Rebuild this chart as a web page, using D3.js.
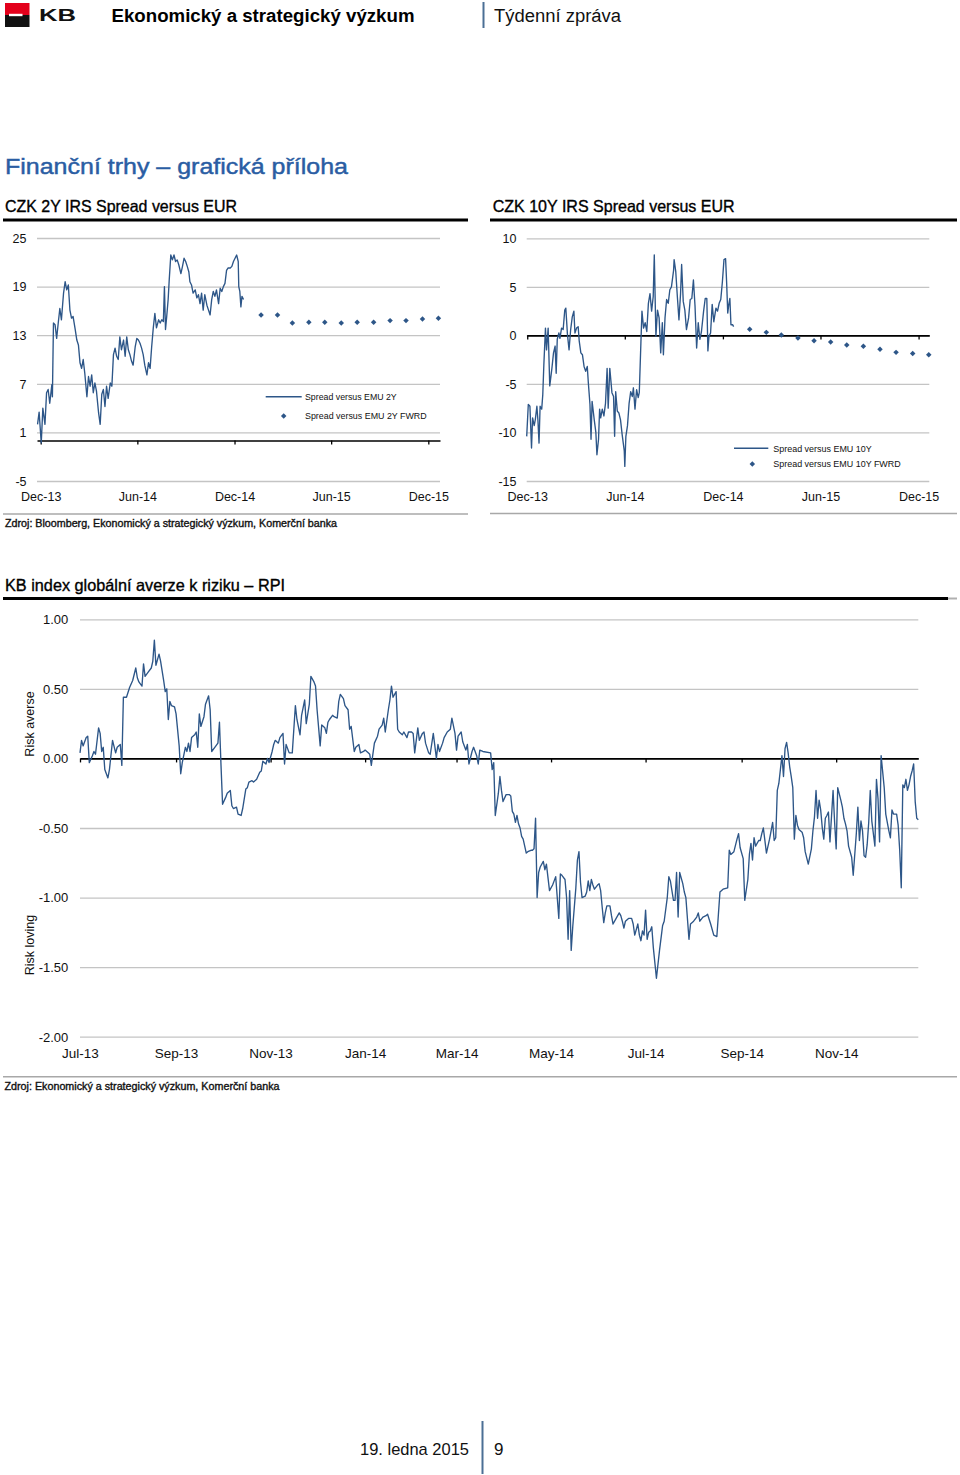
<!DOCTYPE html>
<html><head><meta charset="utf-8">
<script src="https://cdn.jsdelivr.net/npm/d3@7"></script>
<style>
body{margin:0;background:#fff;}
svg{display:block;}
</style></head><body>
<svg id="page" width="960" height="1475"></svg>
<script>
// ---------------- DATA ----------------
// CZK 2Y IRS spread vs EMU 2Y: days since series start, values (bp)
const spread2yStart = "2013-11-24";
const spread2yDays = [1,4,8,11,15,18,21,24,28,29,31,34,37,40,43,46,50,53,56,59,62,65,68,72,75,78,81,84,87,90,94,97,100,103,106,109,112,116,119,122,125,128,131,134,138,141,144,147,150,153,156,159,163,166,169,172,175,178,181,185,188,191,194,197,200,203,207,210,213,216,219,222,225,229,232,235,238,240,242,244,247,249,252,255,258,261,264,267,271,274,277,280,283,286,288,291,294,298,301,304,307,310,313,316,320,323,326,329,332,335,338,342,345,348,351,354,357,360,364,367,370,373,376,379,380,382,384,386,389];
const spread2yValues = [2.0,3.5,-0.3,4.0,2.0,5.9,6.3,4.6,6.9,5.4,14.5,14.3,12.6,14.5,16.3,14.9,18.2,19.6,18.6,19.2,16.1,15.1,15.3,13.7,12.4,11.8,9.6,8.9,10.0,8.3,5.4,7.9,6.7,8.1,5.9,7.1,6.1,3.4,2.0,5.7,6.3,4.2,6.7,5.2,7.1,6.7,10.6,11.4,10.4,10.0,12.8,11.2,12.4,10.4,12.8,11.2,10.6,9.8,9.3,11.6,12.6,12.4,12.0,11.4,10.6,9.3,8.1,9.6,8.9,11.6,13.9,15.7,13.9,14.9,14.5,14.9,14.7,19.0,13.7,15.1,17.4,19.8,22.9,22.3,22.9,22.1,22.3,21.7,20.6,21.5,22.5,22.1,21.5,20.8,19.6,19.2,18.2,18.6,17.6,18.0,16.9,18.2,16.1,18.0,16.7,16.1,15.5,17.4,18.4,17.8,18.6,16.9,18.8,18.4,19.0,19.4,21.0,21.3,21.3,21.5,22.1,22.5,22.9,22.1,19.0,18.4,16.5,17.8,17.4];

// Forward spreads (monthly)
const fwdDates = ["2015-01-20","2015-02-20","2015-03-20","2015-04-20","2015-05-20","2015-06-20","2015-07-20","2015-08-20","2015-09-20","2015-10-20","2015-11-20","2015-12-20"];
const fwd2yValues = [15.5,15.5,14.5,14.6,14.6,14.5,14.6,14.6,14.8,14.8,15.0,15.1];

// CZK 10Y IRS spread vs EMU 10Y
const spread10yStart = "2013-11-30";
const spread10yDays = [0,3,6,9,11,14,16,19,21,23,25,28,30,32,35,37,40,43,47,50,53,55,57,60,62,65,68,71,73,76,79,82,85,88,90,93,96,98,101,104,107,110,113,115,118,120,122,126,129,131,134,136,138,141,144,147,150,152,155,159,162,164,166,169,172,175,178,182,183,185,188,191,194,197,199,202,205,208,210,213,215,218,221,224,227,230,233,236,238,241,244,247,250,253,255,258,261,264,267,270,274,275,278,281,284,287,289,292,295,298,302,305,308,311,314,317,320,323,326,330,333,336,338,340,343,346,349,353,356,359,362,365,368,371,373,375,377,379,381,384,386];
const spread10yValues = [-10.4,-7.1,-7.3,-11.6,-8.5,-9.3,-8.7,-7.3,-8.8,-11.1,-7.3,-7.6,-6.1,-3.0,0.75,-1.5,0.75,-5.2,-3.4,-1.8,-1.1,-3.9,-0.4,0.25,-0.3,0.75,0.6,2.6,2.8,0.1,-1.5,0.6,1.9,2.5,0.25,0.75,0.9,-0.6,-1.8,-2.0,-3.2,-3.7,-3.2,-4.9,-7.1,-10.7,-6.8,-8.7,-10.0,-12.3,-10.7,-7.6,-8.5,-7.6,-8.3,-7.0,-3.4,-7.5,-3.4,-5.9,-6.3,-10.4,-5.8,-7.8,-8.0,-8.7,-10.2,-11.9,-13.5,-10.4,-9.3,-7.0,-5.8,-6.3,-5.4,-7.6,-5.6,-6.4,-5.9,-0.8,2.5,0.75,1.3,0.4,3.3,4.3,2.5,4.0,8.3,-0.1,2.6,1.8,-1.8,1.3,-2.0,1.8,3.7,3.3,4.7,5.0,6.7,7.8,6.6,4.0,1.6,4.3,7.3,3.5,2.6,0.6,1.8,3.7,3.8,5.7,3.0,-1.3,1.3,-0.4,0.4,2.5,3.8,3.8,-1.6,-0.1,0.25,3.2,1.4,2.8,2.5,3.3,3.7,5.5,7.8,7.9,5.4,2.3,3.2,3.8,1.1,1.1,0.9];
const fwd10yValues = [0.62,0.31,0.03,-0.28,-0.55,-0.69,-1.0,-1.13,-1.44,-1.75,-1.86,-2.0];

// KB RPI index: [days since start, value]
const rpiStart = "2013-07-01";
const rpiSeries = [[0,0.04],[1,0.13],[2,0.09],[4,0.15],[5,0.16],[6,-0.03],[8,0.02],[9,0.05],[10,0.03],[12,0.22],[13,0.18],[14,0.05],[15,0.08],[16,-0.08],[18,-0.14],[19,-0.08],[21,0.13],[23,0.04],[24,0.08],[26,0.10],[27,-0.05],[28,0.44],[30,0.44],[32,0.51],[34,0.56],[36,0.65],[37,0.58],[38,0.55],[40,0.52],[41,0.68],[42,0.59],[44,0.62],[46,0.65],[47,0.70],[48,0.85],[49,0.67],[51,0.75],[52,0.70],[53,0.63],[54,0.56],[55,0.48],[56,0.50],[57,0.28],[58,0.41],[59,0.38],[61,0.37],[62,0.32],[64,0.09],[65,-0.11],[66,-0.03],[68,0.08],[69,0.05],[70,0.11],[71,0.05],[72,0.15],[74,0.17],[75,0.19],[76,0.08],[77,0.32],[78,0.23],[80,0.30],[81,0.39],[83,0.45],[84,0.35],[85,0.05],[87,0.08],[89,0.11],[90,0.26],[91,-0.05],[92,-0.33],[94,-0.28],[95,-0.25],[97,-0.23],[98,-0.34],[99,-0.36],[101,-0.35],[102,-0.40],[104,-0.41],[105,-0.36],[107,-0.22],[108,-0.21],[109,-0.17],[111,-0.16],[112,-0.17],[114,-0.15],[116,-0.10],[117,-0.09],[118,-0.02],[120,-0.04],[121,0.0],[122,-0.03],[124,0.05],[125,0.10],[126,0.13],[128,0.11],[129,0.15],[131,0.18],[132,-0.04],[133,0.10],[135,0.04],[136,0.04],[137,0.04],[139,0.38],[140,0.28],[142,0.17],[143,0.31],[145,0.42],[146,0.25],[148,0.39],[149,0.59],[151,0.55],[152,0.52],[153,0.35],[155,0.09],[156,0.24],[158,0.22],[159,0.18],[160,0.26],[161,0.28],[163,0.31],[164,0.30],[166,0.29],[167,0.41],[168,0.46],[170,0.43],[171,0.38],[173,0.35],[174,0.21],[175,0.23],[177,0.05],[178,0.08],[180,0.10],[181,0.04],[183,0.05],[184,0.06],[186,0.04],[187,0.03],[188,-0.05],[190,0.11],[192,0.16],[193,0.21],[195,0.24],[196,0.29],[197,0.19],[199,0.35],[200,0.42],[201,0.52],[202,0.44],[204,0.48],[205,0.21],[206,0.19],[208,0.17],[209,0.19],[211,0.15],[212,0.19],[214,0.19],[215,0.18],[216,0.04],[218,0.22],[219,0.13],[221,0.18],[222,0.19],[223,0.11],[225,0.04],[226,0.03],[228,0.18],[230,0.0],[231,0.10],[232,0.05],[234,0.11],[235,0.15],[237,0.19],[239,0.21],[240,0.29],[242,0.18],[243,0.06],[244,0.16],[246,0.19],[247,0.12],[249,0.06],[250,0.10],[251,-0.04],[253,0.05],[254,0.08],[256,0.02],[257,-0.04],[258,0.06],[260,0.05],[265,0.04],[266,-0.08],[267,-0.03],[268,-0.41],[270,-0.25],[271,-0.13],[272,-0.23],[273,-0.31],[275,-0.26],[277,-0.26],[278,-0.27],[279,-0.38],[280,-0.40],[281,-0.46],[282,-0.41],[283,-0.47],[284,-0.50],[285,-0.56],[286,-0.58],[288,-0.68],[289,-0.67],[291,-0.66],[292,-0.66],[293,-0.65],[294,-0.43],[295,-1.0],[296,-0.82],[297,-0.78],[299,-0.74],[300,-0.80],[301,-0.76],[303,-0.95],[305,-0.91],[306,-0.88],[307,-0.85],[309,-1.15],[310,-0.83],[311,-0.84],[313,-0.87],[314,-1.0],[315,-1.30],[316,-0.95],[317,-1.38],[318,-1.21],[320,-0.93],[321,-0.73],[322,-0.67],[323,-0.89],[324,-1.0],[326,-0.99],[327,-0.96],[328,-0.88],[329,-0.95],[330,-0.87],[331,-0.91],[332,-0.94],[334,-0.91],[335,-0.90],[336,-0.95],[337,-1.07],[338,-1.18],[339,-1.11],[340,-1.06],[342,-1.06],[343,-1.13],[344,-1.19],[346,-1.15],[348,-1.11],[349,-1.13],[350,-1.17],[351,-1.22],[352,-1.17],[354,-1.15],[356,-1.15],[357,-1.19],[358,-1.27],[360,-1.19],[361,-1.27],[362,-1.31],[363,-1.24],[364,-1.27],[365,-1.09],[366,-1.30],[367,-1.25],[368,-1.24],[369,-1.21],[370,-1.36],[372,-1.58],[374,-1.38],[376,-1.20],[377,-1.17],[379,-1.0],[380,-0.85],[381,-0.88],[383,-1.02],[384,-1.02],[385,-0.82],[386,-1.14],[387,-0.82],[389,-0.90],[390,-0.96],[391,-1.0],[393,-1.30],[394,-1.19],[396,-1.17],[398,-1.14],[399,-1.11],[400,-1.17],[402,-1.14],[404,-1.13],[405,-1.12],[407,-1.19],[409,-1.27],[411,-1.28],[412,-1.12],[413,-0.96],[415,-0.94],[418,-0.93],[419,-0.66],[420,-0.69],[422,-0.67],[424,-0.58],[425,-0.54],[426,-0.64],[428,-0.72],[429,-1.02],[431,-0.87],[432,-0.69],[433,-0.61],[434,-0.73],[435,-0.57],[436,-0.63],[438,-0.59],[439,-0.59],[440,-0.54],[441,-0.50],[443,-0.68],[445,-0.58],[446,-0.52],[447,-0.46],[448,-0.59],[449,-0.57],[450,-0.23],[451,-0.18],[452,-0.08],[453,0.02],[454,-0.13],[455,0.07],[456,0.115],[457,0.04],[458,-0.06],[459,-0.13],[460,-0.21],[461,-0.58],[462,-0.41],[463,-0.48],[464,-0.51],[466,-0.53],[467,-0.57],[468,-0.67],[470,-0.76],[472,-0.65],[473,-0.52],[474,-0.42],[475,-0.23],[476,-0.43],[477,-0.30],[478,-0.37],[479,-0.495],[480,-0.58],[481,-0.43],[482,-0.41],[483,-0.385],[484,-0.60],[486,-0.23],[487,-0.46],[488,-0.65],[489,-0.21],[491,-0.30],[492,-0.35],[493,-0.43],[494,-0.47],[495,-0.52],[496,-0.63],[498,-0.71],[499,-0.84],[501,-0.54],[502,-0.35],[503,-0.59],[504,-0.45],[505,-0.52],[506,-0.70],[507,-0.71],[508,-0.62],[509,-0.46],[510,-0.23],[511,-0.45],[513,-0.63],[514,-0.15],[515,-0.29],[516,-0.60],[517,0.02],[519,-0.21],[520,-0.40],[522,-0.52],[523,-0.57],[524,-0.37],[525,-0.40],[527,-0.40],[528,-0.48],[529,-0.66],[530,-0.93],[531,-0.19],[532,-0.21],[533,-0.15],[534,-0.23],[535,-0.19],[536,-0.13],[537,-0.09],[538,-0.04],[539,-0.31],[540,-0.43],[541,-0.44]];

// Axis ticks
const irsTickDates = ["2013-12-01","2014-06-01","2014-12-01","2015-06-01","2015-12-01"];
const irsTickLabels = ["Dec-13","Jun-14","Dec-14","Jun-15","Dec-15"];
const yTicks2y = [25,19,13,7,1,-5];
const yTicks10y = [10,5,0,-5,-10,-15];
const rpiTickDates = ["2013-07-01","2013-09-01","2013-11-01","2014-01-01","2014-03-01","2014-05-01","2014-07-01","2014-09-01","2014-11-01"];
const rpiTickLabels = ["Jul-13","Sep-13","Nov-13","Jan-14","Mar-14","May-14","Jul-14","Sep-14","Nov-14"];
const yTicksRpi = [1,0.5,0,-0.5,-1,-1.5,-2];

// ---------------- DRAWING ----------------
const FONT = '"Liberation Sans", Arial, Helvetica, sans-serif';
const LINE = "#2d5688";
const GRID = "#c4c4c4";
const parse = d3.timeParse("%Y-%m-%d");
const svg = d3.select("#page");

function addText(str, x, y, o = {}) {
  const t = svg.append("text").attr("x", x).attr("y", y).text(str)
    .attr("font-family", o.family || FONT).attr("font-size", o.size || 12)
    .attr("font-weight", o.weight || "normal").attr("fill", o.fill || "#111");
  if (o.anchor) t.attr("text-anchor", o.anchor);
  if (o.len) t.attr("textLength", o.len).attr("lengthAdjust", "spacingAndGlyphs");
  if (o.transform) t.attr("transform", o.transform);
  if (o.dy) t.attr("dy", o.dy);
  if (o.stroke) t.attr("stroke", o.fill || "#111").attr("stroke-width", o.stroke);
  return t;
}
function hline(x1, x2, y, color, w) {
  svg.append("line").attr("x1", x1).attr("x2", x2).attr("y1", y).attr("y2", y)
    .attr("stroke", color).attr("stroke-width", w);
}

// Header
svg.append("rect").attr("x", 5).attr("y", 3).attr("width", 24.5).attr("height", 12).attr("fill", "#e3001b");
svg.append("rect").attr("x", 5).attr("y", 15).attr("width", 24.5).attr("height", 12).attr("fill", "#111");
svg.append("rect").attr("x", 9).attr("y", 13.8).attr("width", 13.5).attr("height", 2.4).attr("fill", "#fff");
addText("KB", 39, 21, { size: 16, weight: "bold", len: 37, fill: "#111" });
addText("Ekonomický a strategický výzkum", 111.5, 21.5, { size: 17.5, weight: "bold", len: 303, fill: "#000" });
svg.append("line").attr("x1", 483.5).attr("x2", 483.5).attr("y1", 2).attr("y2", 28).attr("stroke", "#4b6f95").attr("stroke-width", 2);
addText("Týdenní zpráva", 494, 21.5, { size: 18, len: 127, fill: "#111" });

// Page title
addText("Finanční trhy – grafická příloha", 5, 174, { size: 22.5, len: 343, fill: "#2a5da3", stroke: 0.45 });

// Chart titles + rules
addText("CZK 2Y IRS Spread versus EUR", 5, 211.5, { size: 16.5, len: 232, fill: "#000", stroke: 0.35 });
hline(3, 468, 220, "#000", 3);
addText("CZK 10Y IRS Spread versus EUR", 492.7, 211.5, { size: 16.5, len: 242, fill: "#000", stroke: 0.35 });
hline(490, 957, 220, "#000", 3);
hline(3, 468, 514, "#a8a8a8", 1.4);
hline(490, 957, 513.5, "#a8a8a8", 1.4);
addText("Zdroj: Bloomberg, Ekonomický a strategický výzkum, Komerční banka", 5, 527, { size: 10, len: 332, fill: "#111", stroke: 0.35 });

addText("KB index globální averze k riziku – RPI", 5, 591, { size: 16.5, len: 280, fill: "#000", stroke: 0.35 });
hline(3, 948, 598.5, "#000", 3);
hline(948, 957, 598.5, "#b0b0b0", 2);
hline(3, 957, 1076.7, "#a8a8a8", 1.4);
addText("Zdroj: Ekonomický a strategický výzkum, Komerční banka", 4.5, 1090, { size: 10, len: 275, fill: "#111", stroke: 0.35 });

// Footer
addText("19. ledna 2015", 360, 1455, { size: 17, len: 109, fill: "#111" });
svg.append("line").attr("x1", 482.5).attr("x2", 482.5).attr("y1", 1421).attr("y2", 1474).attr("stroke", "#4b6f95").attr("stroke-width", 2);
addText("9", 494, 1455, { size: 17, fill: "#111" });

function drawChart(cfg) {
  const x = d3.scaleTime().domain(cfg.xDomain).range(cfg.xRange);
  const y = d3.scaleLinear().domain(cfg.yDomain).range(cfg.yRange);
  const w = cfg.xRange[1] - cfg.xRange[0];

  const gy = svg.append("g").attr("transform", `translate(${cfg.xRange[0]},0)`)
    .call(d3.axisLeft(y).tickValues(cfg.yTicks).tickSize(-w).tickPadding(cfg.yPad).tickFormat(cfg.yFormat));
  gy.attr("font-family", FONT).attr("font-size", cfg.yFont);
  gy.select(".domain").remove();
  gy.selectAll(".tick line").attr("stroke", GRID).attr("stroke-width", 1.3);
  gy.selectAll(".tick text").attr("fill", "#111").attr("dy", "0.34em");

  const gx = svg.append("g").attr("transform", `translate(0,${y(0)})`)
    .call(d3.axisBottom(x).tickValues(cfg.xTicks).tickSize(4).tickSizeOuter(0).tickFormat(""));
  gx.select(".domain").attr("stroke", "#000").attr("stroke-width", 1.7);
  gx.selectAll(".tick line").attr("stroke", "#000").attr("stroke-width", 1.3);

  const gl = svg.append("g").attr("transform", `translate(0,${cfg.labelY})`)
    .call(d3.axisBottom(x).tickValues(cfg.xTicks).tickSize(0).tickFormat((d, i) => cfg.xLabels[i]));
  gl.attr("font-family", FONT).attr("font-size", cfg.xFont);
  gl.select(".domain").remove();
  gl.selectAll(".tick text").attr("y", 0).attr("dy", "0.35em").attr("fill", "#111");

  const line = d3.line().x(d => x(d[0])).y(d => y(d[1])).curve(d3.curveLinear);
  svg.append("path").datum(cfg.series).attr("d", line)
    .attr("fill", "none").attr("stroke", LINE).attr("stroke-width", 1.35).attr("stroke-linejoin", "round");

  if (cfg.fwd) {
    svg.append("g").selectAll("path").data(cfg.fwd).join("path")
      .attr("d", d3.symbol(d3.symbolSquare, 15)())
      .attr("transform", d => `translate(${x(d[0])},${y(d[1])}) rotate(45)`)
      .attr("fill", LINE);
  }
  return { x, y };
}

const c1 = drawChart({
  xDomain: [parse("2013-11-24"), parse("2015-12-23")], xRange: [37, 440],
  yDomain: [-5, 25], yRange: [481, 238], yTicks: yTicks2y, yPad: 10.5, yFormat: d => String(d), yFont: 12.5,
  xTicks: irsTickDates.map(parse), xLabels: irsTickLabels, labelY: 497, xFont: 12.5,
  series: spread2yDays.map((d, i) => [d3.timeDay.offset(parse(spread2yStart), d), spread2yValues[i]]),
  fwd: fwdDates.map((d, i) => [parse(d), fwd2yValues[i]])
});
const c2 = drawChart({
  xDomain: [parse("2013-11-30"), parse("2015-12-21")], xRange: [526.7, 929.3],
  yDomain: [-15, 10], yRange: [481, 238.3], yTicks: yTicks10y, yPad: 10.2, yFormat: d => String(d), yFont: 12.5,
  xTicks: irsTickDates.map(parse), xLabels: irsTickLabels, labelY: 497, xFont: 12.5,
  series: spread10yDays.map((d, i) => [d3.timeDay.offset(parse(spread10yStart), d), spread10yValues[i]]),
  fwd: fwdDates.map((d, i) => [parse(d), fwd10yValues[i]])
});
const c3 = drawChart({
  xDomain: [parse("2013-07-01"), parse("2014-12-24")], xRange: [80, 918.3],
  yDomain: [-2, 1], yRange: [1036.7, 619.3], yTicks: yTicksRpi, yPad: 11.7, yFormat: d => d.toFixed(2), yFont: 13,
  xTicks: rpiTickDates.map(parse), xLabels: rpiTickLabels, labelY: 1053, xFont: 13.5,
  series: rpiSeries.map(d => [d3.timeDay.offset(parse(rpiStart), d[0]), d[1]])
});

// Legends
function legend(lx1, lx2, ly, dx, dy, tx, t1, t2, len1, len2) {
  svg.append("line").attr("x1", lx1).attr("x2", lx2).attr("y1", ly).attr("y2", ly).attr("stroke", LINE).attr("stroke-width", 1.6);
  addText(t1, tx, ly, { size: 9.5, len: len1, dy: "0.35em", fill: "#111" });
  svg.append("path").attr("d", d3.symbol(d3.symbolSquare, 15)()).attr("transform", `translate(${dx},${dy}) rotate(45)`).attr("fill", LINE);
  addText(t2, tx, dy, { size: 9.5, len: len2, dy: "0.35em", fill: "#111" });
}
legend(265.7, 301.7, 396.7, 283.7, 416, 305, "Spread versus EMU 2Y", "Spread versus EMU 2Y FWRD", 91.7, 121.7);
legend(734, 768.3, 448.3, 752.3, 464, 773.3, "Spread versus EMU 10Y", "Spread versus EMU 10Y FWRD", 98.4, 127.4);

// Y-axis captions of RPI chart
addText("Risk averse", 0, 0, { size: 12.5, anchor: "middle", dy: "0.35em", transform: "translate(29.5,724) rotate(-90)", fill: "#111" });
addText("Risk loving", 0, 0, { size: 12.5, anchor: "middle", dy: "0.35em", transform: "translate(30,945) rotate(-90)", fill: "#111" });
</script>
</body></html>
